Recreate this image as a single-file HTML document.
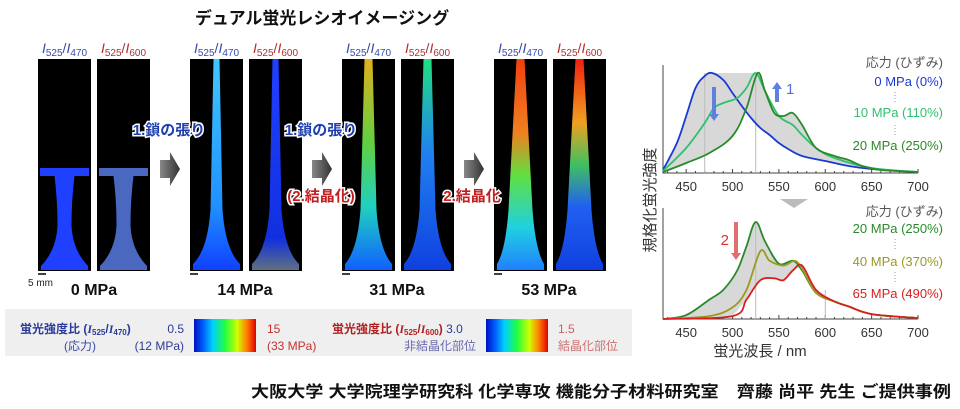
<!DOCTYPE html>
<html><head><meta charset="utf-8"><style>
body{margin:0;background:#fff;width:960px;height:409px;overflow:hidden}
svg{display:block}
text{font-family:"Liberation Sans","Noto Sans CJK JP",sans-serif}
</style></head><body>
<svg id="s" width="960" height="409" viewBox="0 0 960 409">
<defs>
<linearGradient id="cb" x1="0" x2="1" y1="0" y2="0">
<stop offset="0" stop-color="#0010c0"/><stop offset="0.15" stop-color="#0060ff"/><stop offset="0.3" stop-color="#00d0ff"/><stop offset="0.5" stop-color="#20ff40"/><stop offset="0.7" stop-color="#d0ff00"/><stop offset="0.85" stop-color="#ff8000"/><stop offset="1" stop-color="#e00000"/></linearGradient>
<linearGradient id="g14a" x1="0" x2="0" y1="0" y2="1"><stop offset="0" stop-color="#40c8ff"/><stop offset="0.7" stop-color="#2090ff"/><stop offset="1" stop-color="#1040ff"/></linearGradient>
<linearGradient id="g14b" x1="0" x2="0" y1="0" y2="1"><stop offset="0" stop-color="#2040ff"/><stop offset="0.85" stop-color="#1030e0"/><stop offset="1" stop-color="#607080"/></linearGradient>
<linearGradient id="g31a" x1="0" x2="0" y1="0" y2="1"><stop offset="0" stop-color="#e0b020"/><stop offset="0.4" stop-color="#60d040"/><stop offset="0.7" stop-color="#20d0c0"/><stop offset="1" stop-color="#1060ff"/></linearGradient>
<linearGradient id="g31b" x1="0" x2="0" y1="0" y2="1"><stop offset="0" stop-color="#20e080"/><stop offset="0.45" stop-color="#2080f0"/><stop offset="1" stop-color="#1040e0"/></linearGradient>
<linearGradient id="g53a" x1="0" x2="0" y1="0" y2="1"><stop offset="0" stop-color="#f04010"/><stop offset="0.35" stop-color="#f08020"/><stop offset="0.55" stop-color="#60e040"/><stop offset="0.8" stop-color="#20d0e0"/><stop offset="1" stop-color="#2080ff"/></linearGradient>
<linearGradient id="g53b" x1="0" x2="0" y1="0" y2="1"><stop offset="0" stop-color="#f02010"/><stop offset="0.3" stop-color="#f0a020"/><stop offset="0.5" stop-color="#40c060"/><stop offset="0.7" stop-color="#2060f0"/><stop offset="1" stop-color="#1040e0"/></linearGradient>
<linearGradient id="arr" x1="0" x2="1"><stop offset="0" stop-color="#888"/><stop offset="1" stop-color="#333"/></linearGradient>
</defs>

<text x="322" y="24" text-anchor="middle" font-size="17" font-weight="bold" fill="#111">デュアル蛍光レシオイメージング</text>

<g id="panels"></g>

<rect x="5" y="309" width="627" height="47" fill="#efefef"/>
<text x="20" y="333" font-size="12" font-weight="bold" fill="#2a3a9a">蛍光強度比 (<tspan font-style="italic" font-family="Liberation Serif">I</tspan><tspan font-size="8" dy="2">525</tspan><tspan dy="-2">/</tspan><tspan font-style="italic" font-family="Liberation Serif">I</tspan><tspan font-size="8" dy="2">470</tspan><tspan dy="-2">)</tspan></text>
<text x="184" y="333" text-anchor="end" font-size="12" fill="#2a3a9a">0.5</text>
<text x="64" y="350" font-size="12" fill="#3a4aaa">(応力)</text>
<text x="184" y="350" text-anchor="end" font-size="12" fill="#2a3a9a">(12 MPa)</text>
<rect x="194" y="319" width="62" height="33" fill="url(#cb)"/>
<text x="267" y="333" font-size="12" fill="#c83030">15</text>
<text x="267" y="350" font-size="12" fill="#c83030">(33 MPa)</text>
<text x="332" y="333" font-size="12" font-weight="bold" fill="#b02020">蛍光強度比 (<tspan font-style="italic" font-family="Liberation Serif">I</tspan><tspan font-size="8" dy="2">525</tspan><tspan dy="-2">/</tspan><tspan font-style="italic" font-family="Liberation Serif">I</tspan><tspan font-size="8" dy="2">600</tspan><tspan dy="-2">)</tspan><tspan font-weight="normal" fill="#2a3a9a"> 3.0</tspan></text>
<text x="476" y="350" text-anchor="end" font-size="12" fill="#6a6ab0">非結晶化部位</text>
<rect x="486" y="319" width="62" height="33" fill="url(#cb)"/>
<text x="558" y="333" font-size="12" fill="#d06060">1.5</text>
<text x="558" y="350" font-size="12" fill="#d07070">結晶化部位</text>

<g id="chart"></g>

<text x="251" y="397" font-size="16" font-weight="bold" fill="#111" textLength="700" lengthAdjust="spacingAndGlyphs">大阪大学 大学院理学研究科 化学専攻 機能分子材料研究室　齊藤 尚平 先生 ご提供事例</text>
</svg>
<script>
const wl0 = [425,440,450,460,470,478,490,500,510,520,530,540,550,560,575,600,625,650,680];
const blue0 = [0.03,0.3,0.57,0.85,0.97,1.0,0.93,0.8,0.67,0.55,0.45,0.38,0.3,0.24,0.17,0.12,0.07,0.04,0.02];
const wl10 = [425,450,470,480,490,505,515,525,535,550,565,575,590,610,650,700];
const green10 = [0.02,0.25,0.5,0.65,0.7,0.75,0.85,1.0,0.82,0.57,0.48,0.38,0.25,0.15,0.05,0.01];
const wl20 = [425,450,475,500,515,527,535,545,555,565,575,590,610,625,640,660,700];
const green20 = [0.01,0.1,0.2,0.37,0.65,1.0,0.82,0.6,0.57,0.6,0.48,0.25,0.17,0.13,0.07,0.03,0.01];
const wlB20 = [425,450,475,490,505,515,525,535,550,565,575,590,610,625,650,700];
const bGreen20 = [0,0.04,0.2,0.3,0.5,0.75,1.0,0.8,0.57,0.6,0.5,0.27,0.18,0.13,0.05,0.01];
const wlB40 = [425,475,500,515,530,540,555,567,575,590,610,625,650,700];
const bOlive40 = [0,0.03,0.12,0.3,0.7,0.6,0.55,0.6,0.52,0.27,0.18,0.13,0.05,0.01];
const wlB65 = [425,500,515,530,545,555,565,575,590,610,625,650,700];
const bRed65 = [0,0.03,0.2,0.4,0.42,0.4,0.5,0.55,0.3,0.18,0.13,0.05,0.01];
const xTicks = [450,500,550,600,650,700];

const NS="http://www.w3.org/2000/svg";
function mk(parent,tag,attrs){const e=document.createElementNS(NS,tag);for(const k in attrs)e.setAttribute(k,attrs[k]);parent.appendChild(e);return e;}
const X=w=>663+(w-425)*255/275;
const YT=v=>173-v*100;
const YB=v=>319-v*97;
function interp(xs,ys,x){if(x<=xs[0])return ys[0];for(let i=1;i<xs.length;i++){if(x<=xs[i]){const t=(x-xs[i-1])/(xs[i]-xs[i-1]);return ys[i-1]+t*(ys[i]-ys[i-1]);}}return ys[ys.length-1];}
const ch=document.getElementById('chart');

function axes(yBase,yTop,nm){
  const ax=mk(ch,'path',{d:`M663 ${yTop} V${yBase} H918`,stroke:'#444','stroke-width':1,fill:'none'});
  
  
  for(let w=430;w<=700;w+=10){mk(ch,'line',{x1:X(w),x2:X(w),y1:yBase,y2:yBase-(w%50===0?4:2),stroke:'#444'});}
  xTicks.forEach(t=>{const tx=mk(ch,'text',{x:X(t),y:yBase+18,'text-anchor':'middle','font-size':13,fill:'#333'});tx.textContent=t;
    
    });
}
axes(173,65,'top');
axes(319,208,'bottom');

function band(a,b,Y,nm,flat){
  let up=[],lo=[];
  for(let w=425;w<=700;w+=2){const p=interp(a[0],a[1],w),q=interp(b[0],b[1],w);let hi=Math.max(p,q);if(flat&&w>=flat[0]&&w<=flat[1])hi=1;up.push(X(w)+','+Y(hi));lo.unshift(X(w)+','+Y(Math.min(p,q)));}
  const pg=mk(ch,'polygon',{points:up.concat(lo).join(' '),fill:'#d4d4d4',opacity:0.9});
  
  
}
band([wl0,blue0],[wl20,green20],YT,'top-gray-band',[wl0[5],wl20[5]]);
band([wlB20,bGreen20],[wlB65,bRed65],YB,'bottom-gray-band');
[[470,YT(0),YT(1)],[525,YT(0),YT(1)],[525,YB(0),YB(1)],[600,YB(0),YB(0.3)]].forEach(r=>mk(ch,'line',{x1:X(r[0]),x2:X(r[0]),y1:r[1],y2:r[2],stroke:'#bbb','stroke-width':1}));

function line(xs,ys,Y,col,nm){
  const pts=xs.map((w,i)=>[X(w),Y(ys[i])]);
  let d='M'+pts[0][0].toFixed(1)+' '+pts[0][1].toFixed(1);
  for(let i=0;i<pts.length-1;i++){
    const p0=pts[Math.max(0,i-1)],p1=pts[i],p2=pts[i+1],p3=pts[Math.min(pts.length-1,i+2)];
    const c1=[p1[0]+(p2[0]-p0[0])/6,p1[1]+(p2[1]-p0[1])/6],c2=[p2[0]-(p3[0]-p1[0])/6,p2[1]-(p3[1]-p1[1])/6];
    d+=` C${c1[0].toFixed(1)} ${c1[1].toFixed(1)} ${c2[0].toFixed(1)} ${c2[1].toFixed(1)} ${p2[0].toFixed(1)} ${p2[1].toFixed(1)}`;
  }
  const p=mk(ch,'path',{d:d,stroke:col,'stroke-width':1.8,fill:'none','stroke-linejoin':'round'});
  
  
}
line(wl0,blue0,YT,'#1a3ad0','line-0mpa');
line(wl10,green10,YT,'#30c070','line-10mpa');
line(wl20,green20,YT,'#2a8a2a','line-20mpa');
line(wlB20,bGreen20,YB,'#2a8a2a','line-bottom-20mpa');
line(wlB40,bOlive40,YB,'#9a9a20','line-40mpa');
line(wlB65,bRed65,YB,'#d82020','line-65mpa');

function txt(x,y,s,col,size,anchor,nm,extra){const t=mk(ch,'text',Object.assign({x:x,y:y,'font-size':size,fill:col,'text-anchor':anchor||'end'},extra||{}));t.textContent=s;
  
  return t;}
txt(943,67,'応力 (ひずみ)','#555',13,'end','legend-top-title');
txt(943,86,'0 MPa (0%)','#1a3ad0',13,'end','legend-0mpa');
txt(943,117,'10 MPa (110%)','#30c070',13,'end','legend-10mpa');
txt(943,150,'20 MPa (250%)','#2a8a2a',13,'end','legend-20mpa');
txt(943,216,'応力 (ひずみ)','#555',13,'end','legend-bottom-title');
txt(943,233,'20 MPa (250%)','#2a8a2a',13,'end','legend-b-20mpa');
txt(943,266,'40 MPa (370%)','#9a9a20',13,'end','legend-40mpa');
txt(943,298,'65 MPa (490%)','#d82020',13,'end','legend-65mpa');
[[895,97],[895,130],[895,244],[895,277]].forEach(p=>mk(ch,'line',{x1:p[0],x2:p[0],y1:p[1]-5,y2:p[1]+5,stroke:'#999','stroke-dasharray':'1 2'}));
txt(760,356,'蛍光波長 / nm','#333',15,'middle','x-axis-title');
txt(0,0,'規格化蛍光強度','#333',15,'middle','y-axis-title',{transform:'translate(655,200) rotate(-90)'});
function arrow(x,y1,y2,col,nm){const dir=y2>y1?1:-1;const g=mk(ch,'path',{d:`M${x-2} ${y1} V${y2-dir*7} H${x-5} L${x} ${y2} L${x+5} ${y2-dir*7} H${x+2} V${y1} Z`,fill:col});
  
  }
arrow(714,87,121,'#6080e0','arrow-down-1');
arrow(777,102,82,'#6080e0','arrow-up-1');
txt(786,94,'1','#5070d8',15,'start','label-1');
arrow(736,222,260,'#e07070','arrow-down-2');
txt(729,245,'2','#d83030',15,'end','label-2');
const ga=mk(ch,'path',{d:'M780 199 L808 199 L794 208 Z',fill:'#bbb'});



const P=document.getElementById('panels');
const panelX=[38,97,190,249,342,401,494,553];
const fills=['#2040ff','url(#g14b)','url(#g14a)','url(#g14b)','url(#g31a)','url(#g31b)','url(#g53a)','url(#g53b)'];
const hdr=[['I','525','I','470','#3a4aa8'],['I','525','I','600','#b03030']];
panelX.forEach((x,i)=>{
  const w=53,top=59,bot=271;
  const r=mk(P,'rect',{x:x,y:top,width:w,height:bot-top,fill:'#000'});
  
  
  const cx=x+w/2;let d;const st=Math.floor(i/2);
  if(st===0){d=`M${x+2} 168 H${x+w-2} V176 H${cx+10} Q${cx+7} 200 ${cx+7} 225 Q${cx+8} 250 ${x+w-3} 266 V270 H${x+3} V266 Q${cx-8} 250 ${cx-7} 225 Q${cx-7} 200 ${cx-10} 176 H${x+2} Z`;}
  else{const hw=[0,3,4,4][st];const mid=[0,6,8,12][st];d=`M${cx-hw} ${top} L${cx+hw} ${top} L${cx+mid} 210 Q${cx+mid+3} 250 ${x+w-3} 264 V270 H${x+3} V264 Q${cx-mid-3} 250 ${cx-mid} 210 Z`;}
  const s=mk(P,'path',{d:d,fill:(st===0&&i===1)?'#4a68c0':fills[i]});
  
  
  const h=hdr[i%2];
  const t=mk(P,'text',{x:cx,y:53,'text-anchor':'middle','font-size':14,fill:h[4],'font-family':'Liberation Serif'});
  t.innerHTML=`<tspan font-style="italic">${h[0]}</tspan><tspan font-size="10" dy="3">${h[1]}</tspan><tspan dy="-3">/</tspan><tspan font-style="italic">${h[2]}</tspan><tspan font-size="10" dy="3">${h[3]}</tspan>`;
  
  
  if(i%2===0){const sb=mk(P,'line',{x1:x,x2:x+8,y1:274,y2:274,stroke:'#000','stroke-width':1.5});
    
    }
});
const mpa=[['0 MPa',94],['14 MPa',245],['31 MPa',397],['53 MPa',549]];
mpa.forEach(m=>{const t=mk(P,'text',{x:m[1],y:295,'text-anchor':'middle','font-size':16,'font-weight':'bold',fill:'#111'});t.textContent=m[0];
  
  });
const mm=mk(P,'text',{x:28,y:286,'font-size':10,fill:'#222'});mm.textContent='5 mm';


[160,312,464].forEach(x=>{const a=mk(P,'path',{d:`M${x} 160 H${x+10} V152 L${x+20} 169 L${x+10} 186 V178 H${x} Z`,fill:'url(#arr)'});
  
  });
const lab=[[169,135,'1.鎖の張り','#2040b0'],[321,135,'1.鎖の張り','#2040b0'],[321,201,'(2.結晶化)','#c02020'],[472,201,'2.結晶化','#c02020']];
lab.forEach(l=>{const t=mk(P,'text',{x:l[0],y:l[1],'text-anchor':'middle','font-size':15,'font-weight':'bold',fill:l[3],stroke:'#fff','stroke-width':3,'paint-order':'stroke'});t.textContent=l[2];
  
  });
</script>
</body></html>
